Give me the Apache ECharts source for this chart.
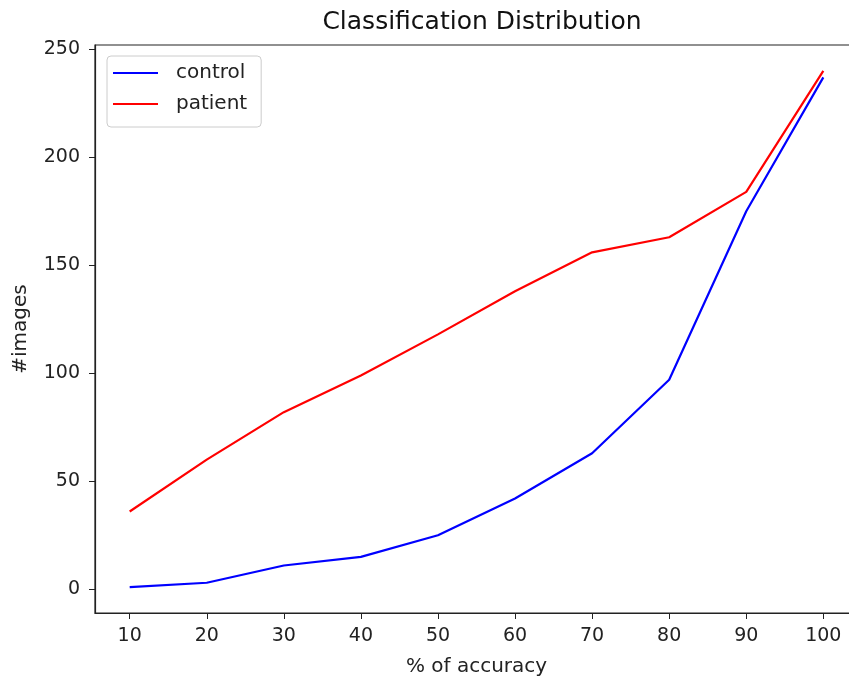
<!DOCTYPE html>
<html>
<head>
<meta charset="utf-8">
<script src="https://cdn.jsdelivr.net/npm/echarts@6/dist/echarts.min.js"></script>
<style>
    html, body { margin: 0; padding: 0; background: #fff; }
    #chartContainer { width: 849px; height: 677px; }
</style>
</head>
<body>
<div id="chartContainer"></div>
<script>
var accuracy = [10, 20, 30, 40, 50, 60, 70, 80, 90, 100];
var controlData = [1, 3, 11, 15, 25, 42, 63, 97, 175, 237];
var patientData = [36, 60, 82, 99, 118, 138, 156, 163, 184, 240];
var xTicks = [10, 20, 30, 40, 50, 60, 70, 80, 90, 100];
var yTicks = [0, 50, 100, 150, 200, 250];

var chart = echarts.init(document.getElementById("chartContainer"));

function pairs(xs, ys) {
    return xs.map(function (x, i) { return [x, ys[i]]; });
}

var axisFont = { fontFamily: 'DejaVu Sans', fontSize: 19, color: '#222' };

chart.setOption({
    animation: false,
    title: {
        text: 'Classification Distribution',
        left: 477, top: 5, textAlign: 'center',
        textStyle: { fontFamily: 'DejaVu Sans', fontSize: 25, fontWeight: 'normal', color: '#111' }
    },
    legend: {
        orient: 'vertical', left: 107, top: 56,
        padding: [7, 14, 13, 6],
        icon: 'rect', itemGap: 11, itemWidth: 45, itemHeight: 2,
        backgroundColor: '#fff', borderColor: '#ccc', borderWidth: 1, borderRadius: 4,
        textStyle: { fontFamily: 'DejaVu Sans', fontSize: 20, color: '#222', padding: [0, 0, 0, 13] },
        data: ['control', 'patient']
    },
    grid: {
        left: 95, top: 45, width: 763, height: 568,
        containLabel: false, outerBoundsMode: 'none',
        show: true, borderColor: '#222', borderWidth: 1.2
    },
    xAxis: {
        type: 'value', min: 5.5, max: 104.5,
        name: '% of accuracy', nameLocation: 'middle', nameGap: 44,
        nameTextStyle: { fontFamily: 'DejaVu Sans', fontSize: 20, color: '#222' },
        splitLine: { show: false },
        axisLine: { onZero: false, lineStyle: { color: '#222', width: 1.2 } },
        axisTick: { customValues: xTicks, length: 6, lineStyle: { color: '#222' } },
        axisLabel: Object.assign({ customValues: xTicks, margin: 14 }, axisFont)
    },
    yAxis: {
        type: 'value', min: -11, max: 252,
        name: '#images', nameLocation: 'middle', nameGap: 64, nameRotate: 90,
        nameTextStyle: { fontFamily: 'DejaVu Sans', fontSize: 20, color: '#222' },
        splitLine: { show: false },
        axisLine: { show: true, onZero: false, lineStyle: { color: '#222', width: 1.2 } },
        axisTick: { show: true, customValues: yTicks, length: 6, lineStyle: { color: '#222' } },
        axisLabel: Object.assign({ customValues: yTicks, margin: 15 }, axisFont)
    },
    series: [
        {
            name: 'control', type: 'line', symbol: 'none',
            data: pairs(accuracy, controlData),
            lineStyle: { color: '#0000ff', width: 2.2 }, itemStyle: { color: '#0000ff' }
        },
        {
            name: 'patient', type: 'line', symbol: 'none',
            data: pairs(accuracy, patientData),
            lineStyle: { color: '#ff0000', width: 2.2 }, itemStyle: { color: '#ff0000' }
        }
    ]
});
</script>
</body>
</html>
